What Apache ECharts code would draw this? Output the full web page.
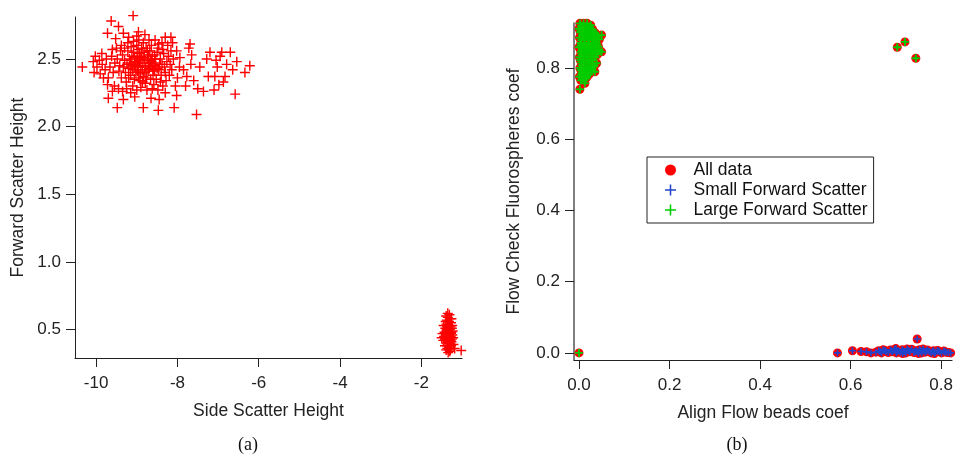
<!DOCTYPE html>
<html>
<head>
<meta charset="utf-8">
<script src="https://cdn.jsdelivr.net/npm/echarts@6/dist/echarts.min.js"></script>
<style>
  html, body { margin: 0; padding: 0; background: #fff; }
  #chart { width: 956px; height: 455px; }
</style>
</head>
<body>
<div id="chart"></div>
<script>
// (a) side scatter vs forward scatter, two populations
var highCluster = [
  [-8.85,2.47],[-8.92,2.50],[-8.78,2.44],[-9.05,2.46],[-8.66,2.49],[-8.98,2.41],[-8.71,2.53],[-9.12,2.52],[-8.55,2.45],[-8.88,2.58],
  [-9.20,2.43],[-8.60,2.38],[-8.95,2.36],[-8.42,2.50],[-9.30,2.49],[-8.80,2.40],[-8.74,2.56],[-9.08,2.55],[-8.50,2.55],[-9.15,2.38],
  [-8.90,2.45],[-8.82,2.51],[-8.69,2.43],[-9.02,2.48],[-8.58,2.47],[-9.24,2.46],[-8.46,2.42],[-8.93,2.54],[-8.76,2.36],[-9.10,2.42],
  [-8.64,2.60],[-8.38,2.46],[-9.35,2.53],[-8.86,2.33],[-8.52,2.35],[-9.00,2.60],[-8.70,2.47],[-9.18,2.50],[-8.96,2.44],[-8.62,2.52],
  [-9.42,2.45],[-8.34,2.54],[-8.84,2.62],[-9.28,2.40],[-8.48,2.58],[-9.06,2.35],[-8.72,2.41],[-8.56,2.41],[-9.14,2.59],[-8.80,2.49],
  [-9.38,2.36],[-8.30,2.40],[-8.99,2.52],[-8.66,2.35],[-9.22,2.56],[-8.44,2.46],[-8.91,2.39],[-8.77,2.58],[-9.33,2.44],[-8.54,2.50],
  [-9.48,2.50],[-8.26,2.48],[-8.86,2.42],[-9.04,2.44],[-8.62,2.44],[-8.74,2.50],[-9.16,2.47],[-8.40,2.38],[-8.94,2.49],[-8.58,2.31],
  [-9.26,2.33],[-8.82,2.55],[-9.44,2.41],[-8.36,2.57],[-9.02,2.40],[-8.68,2.56],[-9.10,2.30],[-8.50,2.43],[-8.88,2.52],[-9.54,2.47],
  [-8.22,2.52],[-8.97,2.57],[-8.64,2.48],[-9.30,2.58],[-8.46,2.61],[-8.79,2.32],[-9.20,2.36],[-8.32,2.44],[-9.06,2.51],[-8.72,2.45],
  [-9.58,2.40],[-8.18,2.46],[-8.92,2.34],[-8.56,2.53],[-9.12,2.45],[-8.84,2.37],[-9.40,2.56],[-8.60,2.42],[-8.98,2.47],[-8.42,2.33],
  [-9.62,2.52],[-9.66,2.44],[-9.70,2.36],[-9.55,2.30],[-9.45,2.28],[-9.35,2.26],[-9.25,2.28],[-9.15,2.25],[-9.00,2.27],[-8.90,2.29],
  [-8.75,2.27],[-8.62,2.28],[-8.48,2.27],[-8.36,2.30],[-8.28,2.34],[-8.20,2.38],[-8.14,2.42],[-8.10,2.50],[-8.16,2.56],[-8.24,2.60],
  [-8.38,2.62],[-8.55,2.64],[-8.70,2.64],[-8.95,2.64],[-9.08,2.63],[-9.22,2.62],[-9.38,2.60],[-9.50,2.58],[-9.60,2.57],[-9.75,2.50],
  [-9.78,2.42],[-9.82,2.36],[-9.85,2.46],[-9.72,2.31],[-9.60,2.26],[-9.05,2.22],[-8.65,2.21],[-8.45,2.20],[-8.30,2.25],[-8.05,2.30],
  [-8.00,2.36],[-7.95,2.44],[-8.02,2.56],[-8.12,2.62],[-8.30,2.66],[-8.80,2.68],[-9.00,2.67],[-9.20,2.66],[-9.52,2.65],
  [-9.09,2.82],[-9.63,2.78],[-9.45,2.74],[-8.96,2.70],[-9.72,2.69],[-9.33,2.69],[-8.16,2.66],[-7.69,2.61],[-6.91,2.55],[-7.28,2.50],
  [-7.05,2.49],[-6.54,2.48],[-6.22,2.45],[-6.79,2.46],[-6.34,2.40],[-7.24,2.37],[-7.08,2.37],[-6.83,2.37],[-6.87,2.33],[-7.36,2.26],
  [-7.10,2.27],[-6.58,2.24],[-7.53,2.09],[-10.34,2.44],[-10.07,2.48],[-9.86,2.54],[-9.48,2.14],[-8.84,2.14],[-8.47,2.12],[-8.08,2.14],
  [-9.33,2.20],[-9.70,2.21],[-8.02,2.23],[-7.67,2.46],[-7.65,2.53],[-7.77,2.37],[-7.94,2.51],[-7.85,2.42],[-7.80,2.30],[-7.60,2.34],
  [-7.45,2.44],[-7.50,2.28],[-7.72,2.58],[-7.02,2.44],[-6.95,2.52],[-6.70,2.55],[-6.98,2.31],[-6.64,2.42],[-7.20,2.55],
  [-10.02,2.52],[-9.98,2.44],[-9.92,2.49],[-9.90,2.39],[-10.05,2.40]
];
var lowCluster = [
  [-1.33,0.47],[-1.30,0.50],[-1.36,0.44],[-1.28,0.45],[-1.38,0.49],[-1.32,0.53],[-1.35,0.41],[-1.26,0.48],[-1.40,0.46],[-1.31,0.43],
  [-1.34,0.56],[-1.29,0.40],[-1.37,0.52],[-1.25,0.51],[-1.42,0.43],[-1.33,0.38],[-1.30,0.58],[-1.36,0.36],[-1.27,0.55],[-1.39,0.40],
  [-1.32,0.46],[-1.34,0.49],[-1.28,0.42],[-1.38,0.54],[-1.31,0.37],[-1.24,0.46],[-1.43,0.48],[-1.35,0.59],[-1.29,0.35],[-1.41,0.51],
  [-1.26,0.41],[-1.36,0.47],[-1.33,0.42],[-1.30,0.45],[-1.37,0.38],[-1.23,0.49],[-1.44,0.45],[-1.32,0.56],[-1.28,0.52],[-1.39,0.35],
  [-1.34,0.33],[-1.31,0.61],[-1.35,0.62],[-1.27,0.38],[-1.40,0.56],[-1.25,0.43],[-1.22,0.44],[-1.46,0.42],[-1.33,0.51],[-1.29,0.48],
  [-1.36,0.50],[-1.31,0.40],[-1.38,0.44],[-1.27,0.47],[-1.34,0.45],[-1.30,0.34],[-1.42,0.38],[-1.24,0.53],[-1.37,0.57],[-1.32,0.43],
  [-1.02,0.345],[-1.48,0.47],[-1.21,0.39],[-1.45,0.53],[-1.26,0.58],[-1.39,0.60],[-1.18,0.36],[-1.50,0.44],[-1.28,0.36],[-1.35,0.53]
];
var ticksA_x = [-10, -8, -6, -4, -2];
var ticksA_y = [0.5, 1.0, 1.5, 2.0, 2.5];

// (b) align coef vs flow check coef
var largeScatter = [
  [0.002,0.925],[0.010,0.925],[0.018,0.925],[0.026,0.920],[0.005,0.918],
  [0.000,0.910],[0.008,0.910],[0.016,0.910],[0.024,0.910],[0.030,0.908],
  [0.003,0.900],[0.012,0.900],[0.020,0.900],[0.028,0.900],[0.036,0.898],
  [0.050,0.892],[0.042,0.890],
  [0.001,0.885],[0.009,0.885],[0.017,0.885],[0.025,0.885],[0.033,0.884],
  [0.004,0.870],[0.013,0.870],[0.021,0.870],[0.030,0.870],[0.038,0.870],
  [0.000,0.858],[0.008,0.858],[0.018,0.858],[0.026,0.858],[0.043,0.860],
  [0.050,0.845],[0.004,0.845],[0.012,0.845],[0.022,0.845],[0.031,0.845],[0.040,0.845],
  [0.001,0.830],[0.009,0.830],[0.017,0.830],[0.027,0.830],[0.036,0.830],
  [0.039,0.813],[0.005,0.815],[0.014,0.815],[0.024,0.815],
  [0.002,0.800],[0.010,0.800],[0.019,0.800],[0.030,0.800],
  [0.035,0.789],[0.006,0.787],[0.015,0.787],[0.024,0.787],
  [0.001,0.775],[0.009,0.775],[0.018,0.775],
  [0.004,0.765],[0.012,0.765],[0.013,0.757],[0.002,0.740],
  [0.006,0.915],[0.014,0.915],[0.022,0.915],[0.004,0.905],[0.016,0.905],[0.024,0.904],[0.032,0.903],
  [0.007,0.893],[0.015,0.893],[0.023,0.893],[0.031,0.892],[0.038,0.893],
  [0.005,0.878],[0.013,0.878],[0.021,0.878],[0.029,0.878],[0.037,0.878],[0.045,0.880],
  [0.004,0.864],[0.012,0.864],[0.022,0.864],[0.034,0.864],[0.040,0.866],
  [0.008,0.851],[0.017,0.851],[0.027,0.851],[0.036,0.851],[0.045,0.850],
  [0.005,0.838],[0.013,0.838],[0.022,0.838],[0.032,0.838],[0.041,0.838],
  [0.003,0.822],[0.010,0.822],[0.020,0.822],[0.030,0.822],
  [0.006,0.807],[0.015,0.807],[0.025,0.807],[0.034,0.806],
  [0.004,0.794],[0.012,0.794],[0.020,0.794],[0.029,0.794],
  [0.005,0.781],[0.013,0.781],[0.022,0.781],[0.007,0.770],[0.015,0.770],
  [0.703,0.858],[0.720,0.873],[0.744,0.827],[0.000,0.000]
];
var smallScatter = [
  [0.571,0.000],[0.604,0.006],[0.623,0.004],[0.635,0.003],[0.645,0.000],[0.747,0.039],
  [0.656,0.002],[0.662,0.006],[0.668,0.000],[0.672,0.009],[0.678,0.004],[0.683,0.001],[0.688,0.008],[0.692,0.003],
  [0.697,0.010],[0.701,0.000],[0.705,0.006],[0.710,0.002],[0.714,0.009],[0.718,0.004],[0.722,0.000],[0.727,0.007],
  [0.731,0.003],[0.735,0.010],[0.740,0.001],[0.744,0.006],[0.748,0.003],[0.752,0.009],[0.757,0.000],[0.761,0.005],
  [0.765,0.002],[0.770,0.008],[0.774,0.004],[0.778,0.000],[0.783,0.006],[0.787,0.002],[0.792,0.007],[0.796,0.003],
  [0.801,0.000],[0.806,0.005],[0.811,0.002],[0.816,0.001],[0.821,0.000],
  [0.665,0.004],[0.676,0.007],[0.690,0.005],[0.703,0.004],[0.716,0.006],[0.729,0.005],[0.742,0.004],[0.755,0.006],
  [0.768,0.005],[0.781,0.004],[0.794,0.005],[0.808,0.003],[0.700,0.012],[0.725,0.011],[0.760,0.011],
  [0.715,-0.002],[0.750,-0.002],[0.785,-0.002]
];
var ticksB = [0.0, 0.2, 0.4, 0.6, 0.8];

var plusThin = 'path://M4.3,0H5.7V4.3H10V5.7H5.7V10H4.3V5.7H0V4.3H4.3Z';
var plusBold = 'path://M3.8,0H6.2V3.8H10V6.2H6.2V10H3.8V6.2H0V3.8H3.8Z';
var font = 'Liberation Sans';

function axisX(grid, min, max, ticks, name, dec) {
  return {
    gridIndex: grid, type: 'value', min: min, max: max,
    name: name, nameLocation: 'middle', nameGap: 44,
    nameTextStyle: { fontSize: 17.5, color: '#222', fontFamily: font },
    axisLine: { show: true, onZero: false, lineStyle: { color: '#222', width: 1 } },
    axisTick: { show: true, length: 9, customValues: ticks, lineStyle: { color: '#222' } },
    axisLabel: { customValues: ticks, margin: 17, fontSize: 17, color: '#222', fontFamily: font,
      formatter: function (v) { return dec ? v.toFixed(dec) : String(v); } },
    splitLine: { show: false }
  };
}
function axisY(grid, min, max, ticks, name, gap, lineColor, lineWidth) {
  return {
    gridIndex: grid, type: 'value', min: min, max: max,
    name: name, nameLocation: 'middle', nameGap: gap, nameRotate: 90,
    nameTextStyle: { fontSize: 17.5, color: '#222', fontFamily: font },
    axisLine: { show: true, onZero: false, lineStyle: { color: lineColor, width: lineWidth } },
    axisTick: { show: true, length: 9, customValues: ticks, lineStyle: { color: '#222' } },
    axisLabel: { customValues: ticks, margin: 14, fontSize: 17, color: '#222', fontFamily: font,
      formatter: function (v) { return v.toFixed(1); } },
    splitLine: { show: false }
  };
}

var chart = echarts.init(document.getElementById('chart'), null, { renderer: 'canvas' });
chart.setOption({
  animation: false,
  backgroundColor: '#fff',
  textStyle: { fontFamily: font },
  grid: [
    { left: 75, top: 17, width: 387, height: 341 },
    { left: 574, top: 23, width: 379, height: 337 }
  ],
  xAxis: [
    axisX(0, -10.52, -1.0, ticksA_x, 'Side Scatter Height', 0),
    axisX(1, -0.011, 0.824, ticksB, 'Align Flow beads coef', 1)
  ],
  yAxis: [
    axisY(0, 0.29, 2.81, ticksA_y, 'Forward Scatter Height', 48, '#222', 1),
    axisY(1, -0.02, 0.926, ticksB, 'Flow Check Fluorospheres coef', 51, '#555', 1.5)
  ],
  legend: {
    orient: 'vertical', left: 647, top: 157,
    padding: [4, 6, 4, 18], itemGap: 2,
    itemWidth: 30, itemHeight: 11,
    backgroundColor: '#fff', borderColor: '#222', borderWidth: 1, borderRadius: 0,
    textStyle: { fontSize: 17.5, color: '#111', fontFamily: font, padding: [0, 0, 0, 3] },
    data: [
      { name: 'All data', icon: 'circle' },
      { name: 'Small Forward Scatter', icon: plusThin },
      { name: 'Large Forward Scatter', icon: plusThin }
    ]
  },
  graphic: [
    { type: 'text', x: 248, y: 445, style: { text: '(a)', font: '18px "Liberation Serif"', fill: '#111', align: 'center', verticalAlign: 'middle' } },
    { type: 'text', x: 737, y: 445, style: { text: '(b)', font: '18px "Liberation Serif"', fill: '#111', align: 'center', verticalAlign: 'middle' } }
  ],
  series: [
    { name: 'high', type: 'scatter', xAxisIndex: 0, yAxisIndex: 0, data: highCluster,
      symbol: plusThin, symbolSize: 10, clip: false, itemStyle: { color: '#ff0000', opacity: 1 } },
    { name: 'low', type: 'scatter', xAxisIndex: 0, yAxisIndex: 0, data: lowCluster,
      symbol: plusThin, symbolSize: 10, clip: false, itemStyle: { color: '#ff0000', opacity: 1 } },
    { name: 'All data', type: 'scatter', xAxisIndex: 1, yAxisIndex: 1, data: largeScatter.concat(smallScatter),
      symbol: 'circle', symbolSize: 9, clip: false, itemStyle: { color: '#ff0000', opacity: 1 } },
    { name: 'Small Forward Scatter', type: 'scatter', xAxisIndex: 1, yAxisIndex: 1, data: smallScatter,
      symbol: plusBold, symbolSize: 7, clip: false, itemStyle: { color: '#2244cc', opacity: 1 } },
    { name: 'Large Forward Scatter', type: 'scatter', xAxisIndex: 1, yAxisIndex: 1, data: largeScatter,
      symbol: plusBold, symbolSize: 8, clip: false, itemStyle: { color: '#00cc00', opacity: 1 } }
  ]
});
</script>
</body>
</html>
